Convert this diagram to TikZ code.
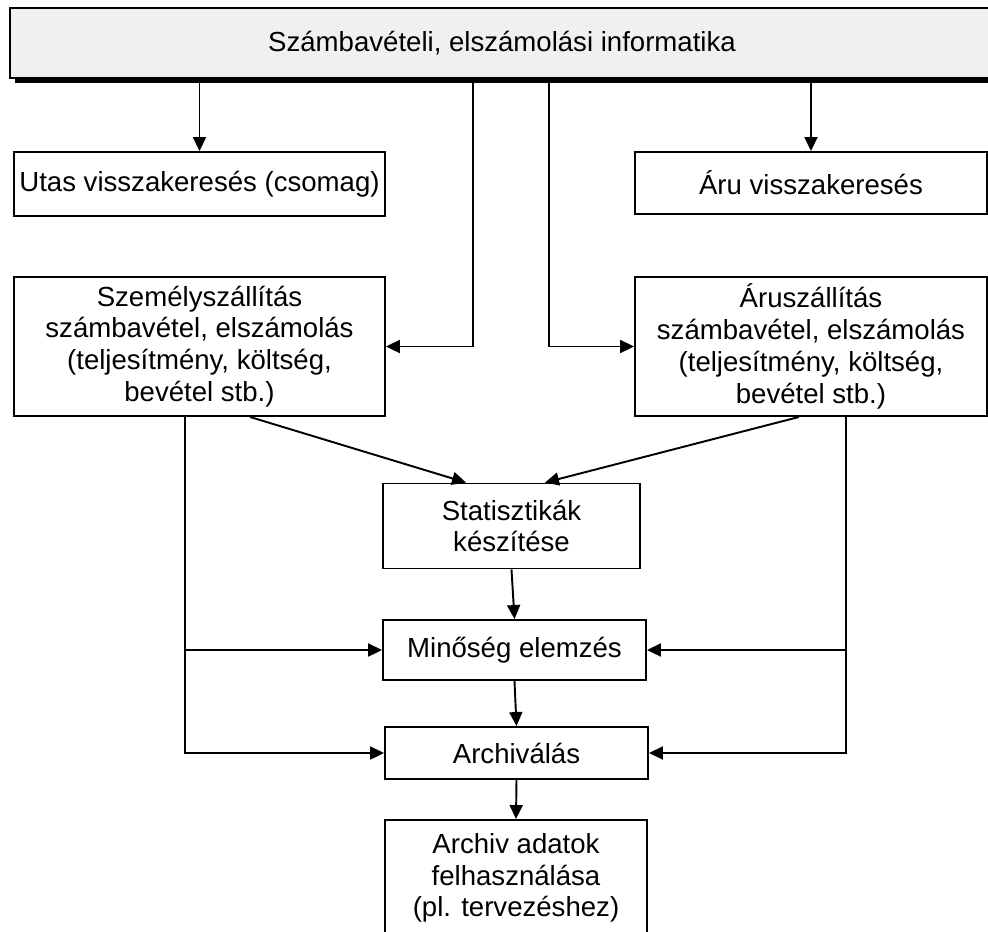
\documentclass[tikz,border=0pt]{standalone}
\usepackage{fontspec}
\setmainfont{Liberation Sans}
\usepackage{tikz}
\usetikzlibrary{arrows.meta, shadows, calc}
\definecolor{headgray}{RGB}{240, 240, 240}

\begin{document}
\begin{tikzpicture}[x=0.02cm, y=-0.02cm, line width=1.1pt, align=center,
    every node/.style={font=\fontsize{15.7}{18.1}\selectfont, inner sep=1pt},
    box/.style={rectangle, draw, fill=white},
    headbox/.style={rectangle, draw, fill=headgray, drop shadow={shadow xshift=0.1cm, shadow yshift=-0.1cm, fill=black, opacity=1}},
    arr/.style={-{Triangle[length=0.28cm, width=0.26cm]}}]
        \useasboundingbox (0,0) rectangle (988,931);
        \node (top) [headbox, minimum width=19.7cm, minimum height=1.4cm] at (502,43) {Számbavételi, elszámolási informatika};
        \node (utas) [box, minimum width=7.42cm, minimum height=1.28cm] at (199.5,184) {Utas visszakeresés (csomag)};
        \node (aruvissza) [box, minimum width=7.04cm, minimum height=1.24cm] at (811,183) {Áru visszakeresés};
        \node (szemely) [box, minimum width=7.42cm, minimum height=2.78cm] at (199.5,346.5) {Személyszállítás\\számbavétel, elszámolás\\(teljesítmény, költség,\\bevétel stb.)};
        \node (aru) [box, minimum width=7.04cm, minimum height=2.78cm] at (811,346.5) {Áruszállítás\\számbavétel, elszámolás\\(teljesítmény, költség,\\bevétel stb.)};
        \node (stat) [box, minimum width=5.14cm, minimum height=1.7cm] at (511.5,526) {Statisztikák\\készítése};
        \node (minoseg) [box, minimum width=5.26cm, minimum height=1.2cm] at (514.5,650) {Minőség elemzés};
        \node (archival) [box, minimum width=5.26cm, minimum height=1.04cm] at (516.5,753) {Archiválás};
        \node (archiv) [box, minimum width=5.24cm, minimum height=2.32cm] at (516,878) {Archiv adatok\\felhasználása\\(pl. tervezéshez)};
        % felso elagazasok
        \coordinate (tl) at ($(top.south)+(-0.58cm,0)$);
        \coordinate (tr) at ($(top.south)+(0.94cm,0)$);
        \draw[arr] (top.south -| utas.north) -- (utas.north);
        \draw[arr] (top.south -| aruvissza.north) -- (aruvissza.north);
        \draw[arr] (tl) |- (szemely.east);
        \draw[arr] (tr) |- (aru.west);
        % statisztika
        \draw[arr] ([xshift=1.01cm]szemely.south) -- ([xshift=-0.91cm]stat.north);
        \draw[arr] ([xshift=-0.24cm]aru.south) -- ([xshift=0.67cm]stat.north);
        \draw[arr] (stat.south) -- (minoseg.north);
        \draw[arr] (minoseg.south) -- (archival.north);
        \draw[arr] (archival.south) -- (archiv.north);
        % oldalso agak
        \coordinate (lfoot) at ([xshift=-0.29cm]szemely.south);
        \coordinate (rfoot) at ([xshift=0.7cm]aru.south);
        \draw[arr] (lfoot) |- (archival.west);
        \draw[arr] (rfoot) |- (archival.east);
        \draw[arr] (lfoot |- minoseg.west) -- (minoseg.west);
        \draw[arr] (rfoot |- minoseg.east) -- (minoseg.east);
    \end{tikzpicture}
\end{document}
